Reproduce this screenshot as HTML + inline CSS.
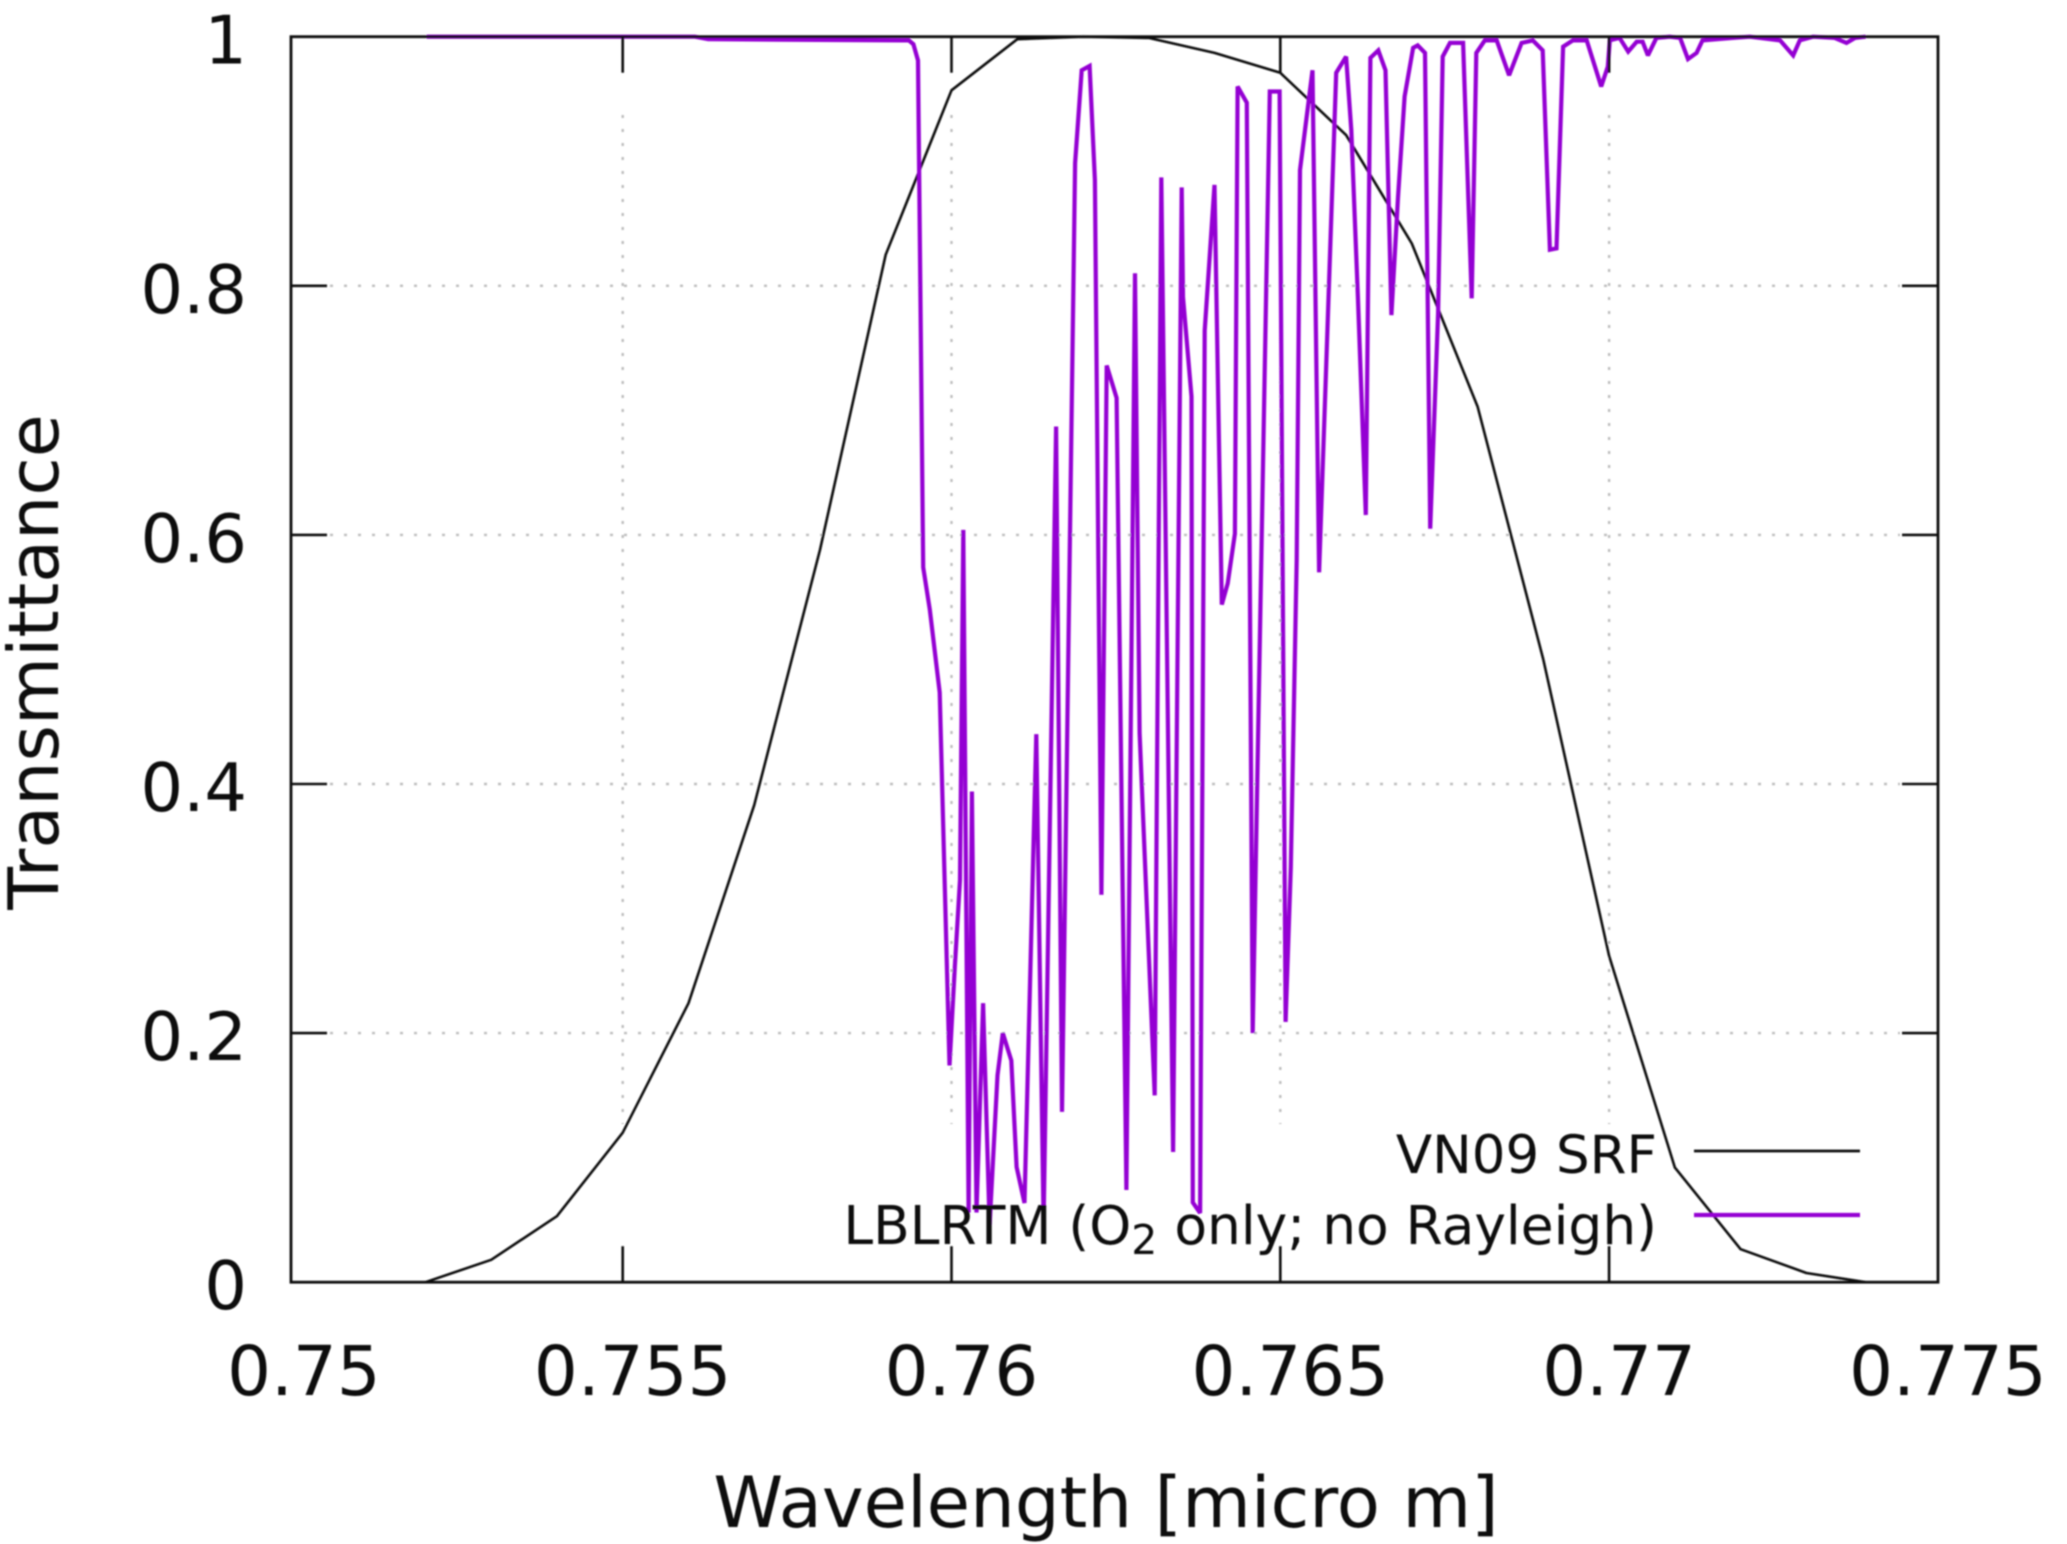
<!DOCTYPE html>
<html lang="en">
<head>
<meta charset="utf-8">
<title>VN09 SRF and LBLRTM transmittance</title>
<style>
html,body{margin:0;padding:0;background:#fff;width:2067px;height:1544px;overflow:hidden}
svg{display:block}
text{font-family:"DejaVu Sans","Liberation Sans",sans-serif;fill:#111}
</style>
</head>
<body>
<svg id="chart" xmlns="http://www.w3.org/2000/svg" width="2067" height="1544" viewBox="0 0 2067 1544">
  <defs><filter id="soft" x="-2%" y="-2%" width="104%" height="104%"><feGaussianBlur stdDeviation="0.9"/></filter></defs>
  <rect width="2067" height="1544" fill="#fff"/>
  <g id="root" filter="url(#soft)">
    <g id="grid"></g>
    <g id="series"></g>
    <rect x="291" y="36.7" width="1647" height="1245.5" fill="none" stroke="#111" stroke-width="2.8"/>
    <g id="ticks"></g>
    <g id="tick-labels"></g>
    <text x="1106" y="1527" font-size="70.6" text-anchor="middle">Wavelength [micro m]</text>
    <text transform="translate(58 662) rotate(-90)" font-size="69.9" text-anchor="middle">Transmittance</text>
    <g>
      <text x="1657" y="1173" font-size="53" text-anchor="end">VN09 SRF</text>
      <line x1="1694" y1="1151" x2="1860" y2="1151" stroke="#111" stroke-width="2.8"/>
      <text x="1657" y="1244" font-size="53.4" text-anchor="end">LBLRTM (O<tspan dy="10" font-size="41">2</tspan><tspan dy="-10"> only; no Rayleigh)</tspan></text>
      <line x1="1694" y1="1215" x2="1860" y2="1215" stroke="#9400d3" stroke-width="4.2"/>
    </g>
  </g>
</svg>
<script>
const xTicks = [0.75, 0.755, 0.76, 0.765, 0.77, 0.775];
const xTickLabels = ['0.75', '0.755', '0.76', '0.765', '0.77', '0.775'];
const yTicks = [0, 0.2, 0.4, 0.6, 0.8, 1];
const yTickLabels = ['0', '0.2', '0.4', '0.6', '0.8', '1'];

const srfWavelength = [0.752,0.753,0.754,0.755,0.756,0.757,0.758,0.759,0.76,0.761,0.762,0.763,0.764,0.765,0.766,0.767,0.768,0.769,0.77,0.771,0.772,0.773,0.7739];
const srfValues = [0,0.018,0.053,0.12,0.224,0.383,0.588,0.825,0.957,0.998,1,0.999,0.987,0.971,0.921,0.834,0.703,0.5,0.262,0.092,0.0265,0.0074,0];

const lblWavelength = [0.75202,0.7561,0.7563,0.75935,0.75942,0.75949,0.75957,0.75967,0.75982,0.75997,0.76005,0.76013,0.76018,0.76026,0.76031,0.76038,0.76048,0.76058,0.7607,0.76078,0.76091,0.76099,0.76111,0.76129,0.7614,0.76159,0.76168,0.76188,0.76198,0.7621,0.76218,0.76228,0.76236,0.76251,0.76266,0.76279,0.76286,0.76309,0.76319,0.76337,0.7635,0.76352,0.76365,0.76367,0.76378,0.76385,0.764,0.76411,0.7642,0.76431,0.76435,0.76449,0.76458,0.76484,0.76499,0.76508,0.76516,0.76525,0.7653,0.76549,0.76559,0.7657,0.76585,0.766,0.76608,0.76618,0.7663,0.76637,0.76649,0.7666,0.76669,0.76679,0.76689,0.76702,0.76709,0.7672,0.76728,0.7674,0.76747,0.76758,0.76778,0.76791,0.76798,0.76811,0.76829,0.76848,0.76867,0.76884,0.76899,0.7691,0.7692,0.7693,0.76945,0.76966,0.76988,0.76998,0.77001,0.77016,0.77029,0.77042,0.77051,0.77059,0.77072,0.77092,0.77108,0.7712,0.77133,0.77142,0.77188,0.77214,0.7726,0.7728,0.7729,0.7731,0.77343,0.77361,0.77374,0.7739];
const lblValues = [1,1,0.998,0.997,0.994,0.981,0.574,0.54,0.4735,0.174,0.253,0.323,0.604,0.056,0.394,0.056,0.224,0.046,0.166,0.2,0.178,0.0925,0.0636,0.44,0.0475,0.687,0.1367,0.8985,0.973,0.9765,0.885,0.311,0.736,0.71,0.074,0.81,0.441,0.15,0.887,0.1045,0.879,0.791,0.711,0.064,0.0556,0.764,0.881,0.544,0.561,0.601,0.96,0.947,0.2,0.956,0.956,0.209,0.333,0.58,0.893,0.973,0.57,0.738,0.971,0.984,0.925,0.791,0.616,0.983,0.989,0.973,0.7765,0.871,0.952,0.991,0.993,0.987,0.605,0.778,0.984,0.995,0.995,0.79,0.987,0.997,0.997,0.969,0.995,0.997,0.989,0.829,0.83,0.992,0.997,0.997,0.96,0.976,0.997,0.999,0.988,0.996,0.996,0.985,0.999,1,0.999,0.982,0.987,0.997,0.999,1,0.997,0.985,0.997,1,0.999,0.995,0.999,1];

const NS = 'http://www.w3.org/2000/svg';
function xScale(w){ return 293.9 + (w - 0.75) / 0.025 * 1644; }
function yScale(t){ return 1282.2 - 1245.5 * t; }
function make(tag, parent, attrs){
  const el = document.createElementNS(NS, tag);
  for (const k in attrs) el.setAttribute(k, attrs[k]);
  parent.appendChild(el);
  return el;
}
const grid = document.getElementById('grid');
const ticks = document.getElementById('ticks');
const labels = document.getElementById('tick-labels');
const series = document.getElementById('series');
const TICK = 36;

xTicks.forEach(function(v, i){
  const x = xScale(v);
  if (i > 0 && i < xTicks.length - 1) {
    const g = make('line', grid, {x1:x, y1:115, x2:x, y2:1124, stroke:'#bdbdbd', 'stroke-width':2.4, 'stroke-dasharray':'3 11'});
    
    
    const b = make('line', ticks, {x1:x, y1:1282.2, x2:x, y2:1282.2-TICK, stroke:'#111', 'stroke-width':2.6});
    
    
    const t = make('line', ticks, {x1:x, y1:36.7, x2:x, y2:36.7+TICK, stroke:'#111', 'stroke-width':2.6});
    
    
  }
  const label = make('text', labels, {x:x+10, y:1395, 'font-size':69, 'text-anchor':'middle'});
  
  
  label.textContent = xTickLabels[i];
});

yTicks.forEach(function(v, i){
  const y = yScale(v);
  if (i > 0 && i < yTicks.length - 1) {
    const g = make('line', grid, {x1:330, y1:y, x2:1900, y2:y, stroke:'#bdbdbd', 'stroke-width':2.4, 'stroke-dasharray':'3 11'});
    
    
    const l = make('line', ticks, {x1:291, y1:y, x2:291+TICK, y2:y, stroke:'#111', 'stroke-width':2.6});
    
    
    const r = make('line', ticks, {x1:1938, y1:y, x2:1938-TICK, y2:y, stroke:'#111', 'stroke-width':2.6});
    
    
  }
  const label = make('text', labels, {x:247, y:y+27, 'font-size':67, 'text-anchor':'end'});
  
  
  label.textContent = yTickLabels[i];
});

function linePoints(xs, ys){
  return xs.map(function(w, i){ return xScale(w).toFixed(1) + ',' + yScale(ys[i]).toFixed(1); }).join(' ');
}
const srfLine = make('polyline', series, {points:linePoints(srfWavelength, srfValues), fill:'none', stroke:'#111', 'stroke-width':2.6, 'stroke-linejoin':'round'});


const lblLine = make('polyline', series, {points:linePoints(lblWavelength, lblValues), fill:'none', stroke:'#9400d3', 'stroke-width':4.2, 'stroke-linejoin':'miter', 'stroke-miterlimit':2});


</script>
</body>
</html>
